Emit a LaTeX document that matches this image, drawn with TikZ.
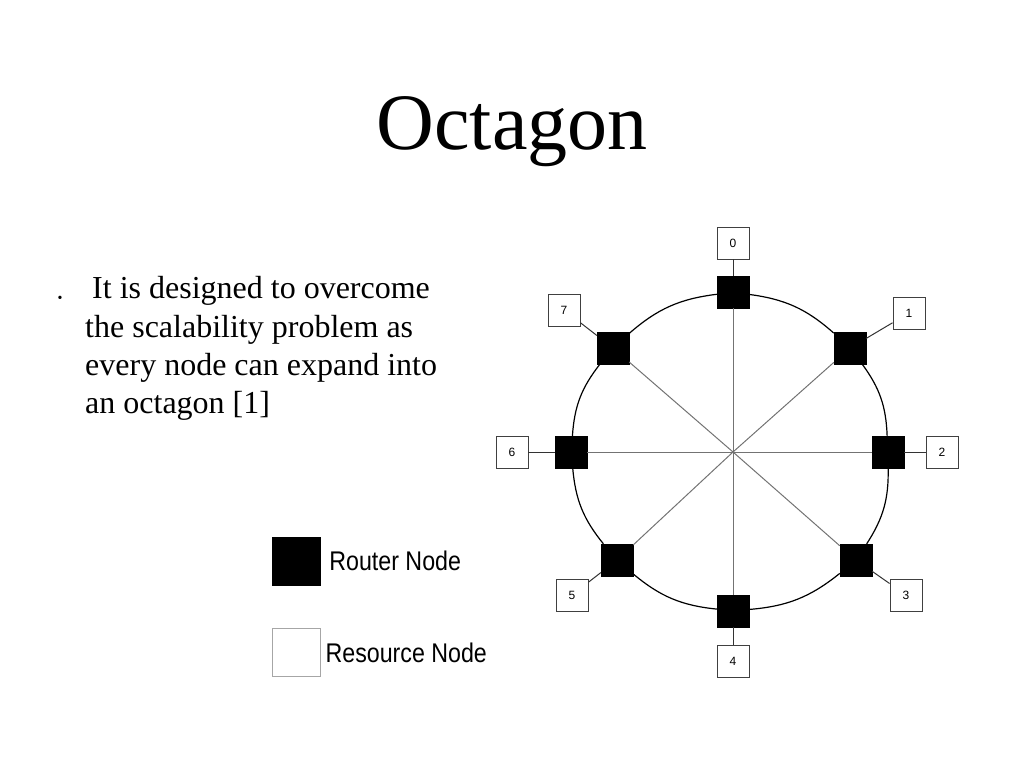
\documentclass[tikz,border=0pt]{standalone}
\usepackage{fontspec}
\setmainfont{Liberation Serif}
\setsansfont{Liberation Sans}
\usetikzlibrary{positioning}

\tikzset{
  router/.style={draw=black, fill=black, minimum size=32pt, inner sep=0pt},
  resource/.style={draw=black!75, fill=white, line width=0.9pt, minimum size=32pt, inner sep=0pt, font=\sffamily\fontsize{12}{12}\selectfont},
  spoke/.style={draw=black!55, line width=1pt},
  ring/.style={draw=black, line width=1.2pt},
  link/.style={draw=black!80, line width=1pt},
  bodytext/.style={anchor=base west, inner sep=0pt, font=\fontsize{32}{38}\selectfont},
  legendtext/.style={anchor=west, inner sep=0pt, xscale=0.86, font=\sffamily\fontsize{27}{27}\selectfont},
}

\begin{document}
\begin{tikzpicture}[x=1pt, y=-1pt]
	\useasboundingbox (0,0) rectangle (1024,768);
	
	\node[anchor=base, inner sep=0pt, font=\fontsize{80}{96}\selectfont] (title) at (512,149) {Octagon};
	
	% bullet text
	\node[inner sep=0pt, font=\fontsize{14}{14}\selectfont] (dot) at (60,299) {•};
	\node[bodytext] (t1) at (92,298) {It is designed to overcome};
	\node[bodytext] (t2) at (85,337) {the scalability problem as};
	\node[bodytext] (t3) at (85,375) {every node can expand into};
	\node[bodytext] (t4) at (85,413) {an octagon [1]};
	
	% octagon
	\coordinate (c) at (733,452);
	\foreach \i/\x/\y in {0/733/292, 1/850/348, 2/888/452, 3/856/560, 4/733/611, 5/617/560, 6/571/452, 7/613/348}
		\node[router] (r\i) at (\x,\y) {};
	\foreach \i/\x/\y in {0/733/243, 1/909/313, 2/942/452, 3/906/595, 4/733/661, 5/572/595, 6/512/452, 7/564/310}
		\node[resource] (s\i) at (\x,\y) {\i};
	
	\foreach \i in {0,...,7}
	{
		\draw[spoke] (c) -- (r\i);
		\draw[link] (r\i) -- (s\i);
	}
	\foreach \i [evaluate=\i as \j using {int(mod(\i+1,8))}] in {0,...,7}
		\draw[ring] (r\i) to[bend left=17] (r\j);
	
	% legend
	\node[router, minimum size=48pt] (lrouter) at (296,561) {};
	\node[draw=black!35, line width=0.8pt, minimum size=48pt, inner sep=0pt, below=43pt of lrouter] (lresource) {};
	\node[legendtext, right=9pt of lrouter] (lroutertext) {Router Node};
	\node[legendtext, right=5pt of lresource] (lresourcetext) {Resource Node};
\end{tikzpicture}
\end{document}
